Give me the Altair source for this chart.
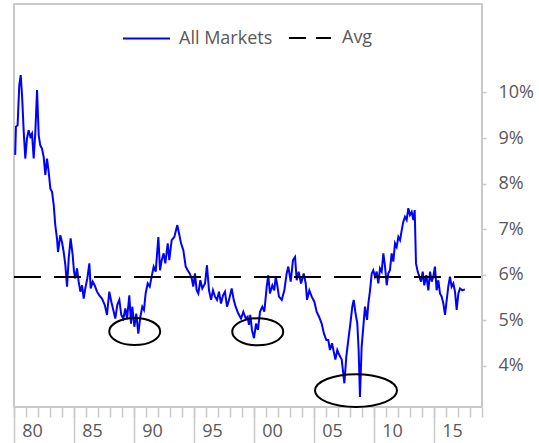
import altair as alt
import pandas as pd

# Monthly-ish readings of the all-markets series (decimal year, percent)
years = [
    1979.10, 1979.16, 1979.30, 1979.44, 1979.56, 1979.67, 1979.81, 1979.94,
    1980.08, 1980.22, 1980.36, 1980.50, 1980.64, 1980.78, 1980.92, 1981.06,
    1981.19, 1981.33, 1981.47, 1981.61, 1981.75, 1981.89, 1982.03, 1982.17,
    1982.31, 1982.44, 1982.58, 1982.67, 1982.86, 1983.00, 1983.14, 1983.28,
    1983.42, 1983.56, 1983.72, 1983.89, 1984.00, 1984.11, 1984.25, 1984.39,
    1984.53, 1984.67, 1984.81, 1984.94, 1985.11, 1985.28, 1985.39, 1985.56,
    1985.72, 1985.92, 1986.11, 1986.33, 1986.56, 1986.75, 1986.94, 1987.11,
    1987.31, 1987.44, 1987.61, 1987.78, 1987.94, 1988.11, 1988.28, 1988.42,
    1988.61, 1988.75, 1988.86, 1989.03, 1989.19, 1989.36, 1989.53, 1989.69,
    1989.83, 1989.97, 1990.14, 1990.31, 1990.47, 1990.64, 1990.81, 1991.03,
    1991.17, 1991.31, 1991.47, 1991.61, 1991.81, 1991.94, 1992.14, 1992.36,
    1992.61, 1992.75, 1992.92, 1993.11, 1993.31, 1993.47, 1993.64, 1993.81,
    1993.94, 1994.08, 1994.22, 1994.36, 1994.53, 1994.69, 1994.92, 1995.08,
    1995.25, 1995.42, 1995.58, 1995.75, 1995.92, 1996.08, 1996.25, 1996.42,
    1996.58, 1996.75, 1996.92, 1997.14, 1997.31, 1997.47, 1997.69, 1997.92,
    1998.11, 1998.31, 1998.47, 1998.58, 1998.69, 1998.83, 1999.00, 1999.17,
    1999.33, 1999.50, 1999.69, 1999.86, 2000.06, 2000.19, 2000.33, 2000.53,
    2000.69, 2000.81, 2000.94, 2001.08, 2001.31, 2001.53, 2001.72, 2001.86,
    2002.06, 2002.25, 2002.42, 2002.56, 2002.72, 2002.92, 2003.14, 2003.31,
    2003.42, 2003.61, 2003.81, 2004.03, 2004.22, 2004.42, 2004.64, 2004.83,
    2005.03, 2005.19, 2005.33, 2005.50, 2005.64, 2005.78, 2005.94, 2006.11,
    2006.31, 2006.53, 2006.69, 2006.86, 2007.03, 2007.19, 2007.31, 2007.44,
    2007.61, 2007.72, 2007.83, 2007.97, 2008.11, 2008.25, 2008.42, 2008.53,
    2008.67, 2008.81, 2008.94, 2009.08, 2009.22, 2009.36, 2009.50, 2009.64,
    2009.78, 2009.92, 2010.06, 2010.19, 2010.33, 2010.47, 2010.61, 2010.75,
    2010.89, 2011.03, 2011.17, 2011.31, 2011.44, 2011.58, 2011.72, 2011.86,
    2012.00, 2012.14, 2012.28, 2012.39, 2012.50, 2012.64, 2012.78, 2012.92,
    2013.06, 2013.19, 2013.36, 2013.53, 2013.67, 2013.81, 2013.94, 2014.08,
    2014.22, 2014.36, 2014.50, 2014.64, 2014.78, 2014.92, 2015.06, 2015.19,
    2015.33, 2015.47, 2015.61, 2015.75, 2015.89, 2016.03, 2016.17, 2016.36,
    2016.58,
]
values = [
    8.63, 9.25, 9.28, 10.16, 10.38, 9.94, 9.14, 8.55,
    8.99, 9.17, 9.03, 9.10, 8.55, 9.14, 10.05, 9.06,
    8.84, 8.77, 8.59, 8.19, 8.55, 8.26, 7.89, 7.82,
    7.53, 7.09, 6.80, 6.50, 6.87, 6.72, 6.50, 6.21,
    5.74, 6.36, 6.80, 6.43, 6.07, 5.92, 6.14, 5.85,
    5.63, 5.77, 5.48, 5.70, 5.92, 6.25, 5.70, 5.85,
    5.77, 5.63, 5.55, 5.48, 5.34, 5.12, 5.63, 5.41,
    5.19, 5.04, 5.34, 5.45, 5.12, 5.04, 5.26, 5.04,
    5.55, 4.93, 5.30, 4.86, 5.15, 4.71, 5.08, 5.30,
    5.23, 5.59, 5.81, 5.74, 5.96, 6.18, 6.07, 6.83,
    6.10, 6.32, 6.47, 6.25, 6.69, 6.32, 6.76, 6.83,
    7.09, 6.91, 6.69, 6.54, 6.18, 6.10, 6.03, 5.92,
    5.74, 6.03, 5.66, 5.59, 5.88, 5.70, 5.81, 6.21,
    5.66, 5.45, 5.66, 5.52, 5.45, 5.63, 5.37, 5.55,
    5.63, 5.30, 5.45, 5.70, 5.45, 5.30, 5.15, 5.04,
    5.19, 5.04, 5.08, 4.90, 5.12, 4.79, 4.61, 4.93,
    4.79, 5.19, 5.30, 5.19, 5.74, 5.99, 5.59, 5.77,
    5.66, 5.96, 5.77, 5.52, 5.45, 5.66, 6.03, 6.18,
    5.85, 6.32, 6.39, 5.88, 6.07, 5.81, 6.03, 5.81,
    5.45, 5.66, 5.52, 5.41, 5.19, 5.08, 4.93, 4.71,
    4.57, 4.57, 4.35, 4.50, 4.32, 4.14, 4.35, 4.24,
    4.14, 3.62, 4.20, 4.57, 4.93, 5.30, 5.45, 5.19,
    4.93, 4.35, 3.32, 4.42, 4.86, 5.30, 5.01, 5.37,
    5.66, 6.03, 6.10, 5.96, 6.07, 5.81, 6.14, 6.07,
    6.47, 6.18, 5.77, 6.03, 6.10, 6.47, 6.29, 6.69,
    6.61, 6.83, 6.76, 6.98, 7.16, 7.27, 7.20, 7.46,
    7.31, 7.38, 7.20, 7.42, 6.25, 6.07, 5.96, 5.85,
    6.07, 5.77, 5.99, 5.66, 6.07, 5.85, 5.96, 6.18,
    5.66, 5.88, 5.59, 5.52, 5.37, 5.12, 5.45, 5.74,
    5.96, 5.74, 5.81, 5.63, 5.23, 5.59, 5.70, 5.66,
    5.68,
]

# Long-run average and the span it covers
avg_value = 5.95
x_start, x_end = 1979, 2018

# Centres of the three circled troughs (year, percent)
trough_years = [1989.06, 1999.31, 2007.50]
trough_values = [4.755, 4.75, 3.46]

# Axis tick and label positions
year_ticks = list(range(1979, 2019))
group_ticks = list(range(1979, 2019, 5))
label_years = [y + 0.5 for y in range(1980, 2016, 5)]
pct_ticks = [4, 5, 6, 7, 8, 9, 10]

series_df = pd.DataFrame({"year": years, "value": values, "series": "All Markets"})
avg_df = pd.DataFrame(
    {"year": [x_start], "year_end": [x_end], "value": [avg_value], "series": ["Avg"]}
)

GREY = "#c9c9c9"
TEXT = "#595959"
FONT = "Open Sans"

x_scale = alt.Scale(domain=[x_start, x_end], nice=False, zero=False)
y_scale = alt.Scale(domain=[3.10, 11.94], nice=False, zero=False)

legend_common = dict(
    orient="none",
    title=None,
    symbolType="stroke",
    symbolStrokeWidth=2,
    labelFont=FONT,
    labelFontSize=18,
    labelColor=TEXT,
    padding=0,
    direction="horizontal",
)

line = alt.Chart(series_df).mark_line(strokeWidth=2, clip=True).encode(
    x=alt.X(
        "year:Q",
        scale=x_scale,
        axis=alt.Axis(
            orient="bottom", values=year_ticks, labels=False, tickSize=10,
            tickColor=GREY, tickWidth=1.5, domain=False, grid=False, title=None,
        ),
    ),
    y=alt.Y(
        "value:Q",
        scale=y_scale,
        axis=alt.Axis(
            orient="right", values=pct_ticks, labelExpr="datum.value + '%'",
            tickSize=4, tickColor=GREY, tickWidth=1.5, labelPadding=12,
            domain=False, grid=False, title=None,
        ),
    ),
    color=alt.Color(
        "series:N",
        scale=alt.Scale(domain=["All Markets"], range=["#0000ff"]),
        legend=alt.Legend(legendX=108, legendY=10, symbolSize=2209,
                          labelOffset=8, **legend_common),
    ),
)

avg = alt.Chart(avg_df).mark_rule(strokeWidth=2, strokeDash=[27, 13]).encode(
    x=alt.X(
        "year:Q",
        scale=x_scale,
        axis=alt.Axis(
            orient="bottom", values=label_years, ticks=False, tickSize=0,
            labelPadding=15,
            labelExpr="format(floor(datum.value) % 100, '02d')",
            labelFlush=False, labelOverlap=False,
            domain=False, grid=False, title=None,
        ),
    ),
    x2="year_end:Q",
    y=alt.Y("value:Q", scale=y_scale),
    color=alt.Color(
        "series:N",
        scale=alt.Scale(domain=["Avg"], range=["#000000"]),
        legend=alt.Legend(legendX=274, legendY=12, symbolSize=1764,
                          symbolDash=[17, 10], labelOffset=10, **legend_common),
    ),
)

# Ellipse outlines as custom symbol paths (unit box, flattened vertically)
ellipse_specs = [(0.53, 2601), (0.53, 2601), (0.40, 6724)]
ellipses = []
for i, (ry, size) in enumerate(ellipse_specs):
    path = f"M-1,0A1,{ry},0,1,1,1,0A1,{ry},0,1,1,-1,0Z"
    df = pd.DataFrame({"year": [trough_years[i]], "value": [trough_values[i]]})
    x_axis = (
        alt.Axis(orient="bottom", values=group_ticks, labels=False, tickSize=36,
                 tickColor=GREY, tickWidth=1.5, domain=False, grid=False,
                 title=None)
        if i == 0 else None
    )
    ellipses.append(
        alt.Chart(df).mark_point(
            shape=path, size=size, filled=False, stroke="#000000",
            strokeWidth=2, opacity=1,
        ).encode(
            x=alt.X("year:Q", scale=x_scale, axis=x_axis),
            y=alt.Y("value:Q", scale=y_scale),
        )
    )

chart = (
    alt.layer(line, avg, *ellipses)
    .resolve_axis(x="independent")
    .resolve_scale(color="independent")
    .properties(
        width=468,
        height=403,
        autosize=alt.AutoSizeParams(type="none"),
        padding={"left": 14, "top": 4, "right": 57, "bottom": 36},
    )
    .configure_view(stroke=GREY, strokeWidth=2)
    .configure_axis(labelFont=FONT, labelFontSize=18, labelColor=TEXT)
)

chart.save("out.html", embed_options={"renderer": "svg", "actions": False})
